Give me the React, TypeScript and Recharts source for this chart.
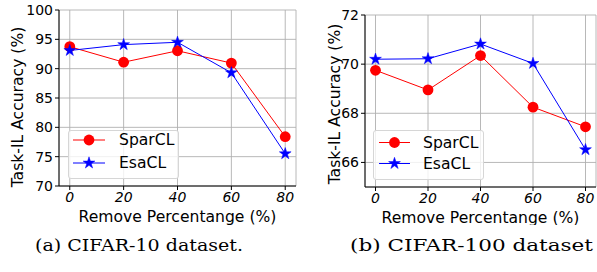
import React from 'react';
import { LineChart, Line, XAxis, YAxis, CartesianGrid, Label } from 'recharts';

const xValues = [0, 20, 40, 60, 80];
const xTicks = [0, 20, 40, 60, 80];
const seriesNames = ['SparCL', 'EsaCL'];

const cifar10Spar = [93.75, 91.1, 93.05, 90.95, 78.4];
const cifar10Esa = [93.1, 94.1, 94.5, 89.3, 75.5];
const cifar10YTicks = [70, 75, 80, 85, 90, 95, 100];

const cifar100Spar = [69.75, 68.95, 70.35, 68.25, 67.45];
const cifar100Esa = [70.2, 70.22, 70.82, 70.03, 66.52];
const cifar100YTicks = [66, 68, 70, 72];

const captions = ['(a) CIFAR-10 dataset.', '(b) CIFAR-100 dataset'];

const FONT = '"DejaVu Sans", sans-serif';
const RED = '#ff0000';
const BLUE = '#0000ff';

const build = (a: number[], b: number[]) =>
  xValues.map((x, i) => ({ x, spar: a[i], esa: b[i] }));

const starPoints = (cx: number, cy: number, R: number) => {
  const r = R * 0.382;
  const pts: string[] = [];
  for (let i = 0; i < 10; i++) {
    const rad = i % 2 === 0 ? R : r;
    const ang = -Math.PI / 2 + (i * Math.PI) / 5;
    pts.push(`${cx + rad * Math.cos(ang)},${cy + rad * Math.sin(ang)}`);
  }
  return pts.join(' ');
};

const StarDot = (props: any) => {
  const { cx, cy, index } = props;
  if (cx == null || cy == null) return null;
  return <polygon key={`s${index}`} points={starPoints(cx, cy, 6.2)} fill={BLUE} stroke={BLUE} strokeWidth={0.5} />;
};

const CircleDot = (props: any) => {
  const { cx, cy, index } = props;
  if (cx == null || cy == null) return null;
  return <circle key={`c${index}`} cx={cx} cy={cy} r={5.4} fill={RED} />;
};

type PanelProps = {
  data: { x: number; spar: number; esa: number }[];
  yDomain: [number, number];
  yTicks: number[];
  width: number;
  marginTop: number;
  marginRight: number;
  yAxisWidth: number;
  xAxisHeight: number;
  yLabelX: number;
  yLabelDy: number;
};

const Panel = (p: PanelProps) => (
  <LineChart
    width={p.width}
    height={225}
    data={p.data}
    margin={{ top: p.marginTop, right: p.marginRight, bottom: 0, left: 0 }}
    style={{ fontFamily: FONT }}
  >
    <CartesianGrid stroke="#b0b0b0" strokeWidth={0.9} />
    <XAxis
      dataKey="x"
      type="number"
      domain={[-4, 84]}
      ticks={xTicks}
      height={p.xAxisHeight}
      tickSize={4}
      tickMargin={2}
      axisLine={{ stroke: '#000', strokeWidth: 1 }}
      tickLine={{ stroke: '#000', strokeWidth: 1 }}
      tick={{ fontSize: 14, fontStyle: 'italic', fill: '#000', fontFamily: FONT }}
      allowDataOverflow
    >
      <Label
        content={(lp: any) => {
          const vb = lp.viewBox || {};
          return (
            <text
              x={vb.x + vb.width / 2}
              y={vb.y + 35.5}
              textAnchor="middle"
              fontSize={15.6}
              fontFamily={FONT}
              fill="#000"
            >
              Remove Percentange (%)
            </text>
          );
        }}
      />
    </XAxis>
    <XAxis
      xAxisId="top"
      orientation="top"
      type="number"
      domain={[-4, 84]}
      height={0}
      tick={false}
      tickLine={false}
      axisLine={{ stroke: '#000', strokeWidth: 1 }}
    />
    <YAxis
      type="number"
      domain={p.yDomain}
      ticks={p.yTicks}
      width={p.yAxisWidth}
      tickSize={4}
      tickMargin={2}
      interval={0}
      axisLine={{ stroke: '#000', strokeWidth: 1 }}
      tickLine={{ stroke: '#000', strokeWidth: 1 }}
      tick={{ fontSize: 14, fill: '#000', fontFamily: FONT }}
      allowDataOverflow
    >
      <Label
        content={(lp: any) => {
          const vb = lp.viewBox || {};
          const cx = p.yLabelX;
          const cy = vb.y + vb.height / 2 + p.yLabelDy;
          return (
            <text
              x={cx}
              y={cy}
              transform={`rotate(-90, ${cx}, ${cy})`}
              textAnchor="middle"
              dominantBaseline="central"
              fontSize={15.6}
              fontFamily={FONT}
              fill="#000"
            >
              Task-IL Accuracy (%)
            </text>
          );
        }}
      />
    </YAxis>
    <YAxis
      yAxisId="right"
      orientation="right"
      type="number"
      domain={p.yDomain}
      width={0}
      tick={false}
      tickLine={false}
      axisLine={{ stroke: '#000', strokeWidth: 1 }}
    />
    <Line
      dataKey="spar"
      name={seriesNames[0]}
      stroke={RED}
      strokeWidth={1}
      dot={<CircleDot />}
      activeDot={false}
      isAnimationActive={false}
    />
    <Line
      dataKey="esa"
      name={seriesNames[1]}
      stroke={BLUE}
      strokeWidth={1}
      dot={<StarDot />}
      activeDot={false}
      isAnimationActive={false}
    />
  </LineChart>
);

const LegendBox = (props: { left: number; top: number; width: number; height: number; row1: number; row2: number; lineX1: number; lineX2: number; textX: number }) => {
  const { width, height, row1, row2, lineX1, lineX2, textX } = props;
  const mx = (lineX1 + lineX2) / 2;
  return (
    <div
      style={{
        position: 'absolute',
        left: props.left,
        top: props.top,
        width,
        height,
        boxSizing: 'border-box',
        border: '1px solid #d6d6d6',
        borderRadius: 3,
        background: 'rgba(255,255,255,0.8)',
      }}
    >
      <svg width={width} height={height} style={{ position: 'absolute', left: -1, top: -1 }}>
        <line x1={lineX1} x2={lineX2} y1={row1} y2={row1} stroke={RED} strokeWidth={1} />
        <circle cx={mx} cy={row1} r={5.4} fill={RED} />
        <text x={textX} y={row1} dominantBaseline="central" fontSize={15.6} fontFamily={FONT} fill="#000">
          {seriesNames[0]}
        </text>
        <line x1={lineX1} x2={lineX2} y1={row2} y2={row2} stroke={BLUE} strokeWidth={1} />
        <polygon points={starPoints(mx, row2, 6.2)} fill={BLUE} stroke={BLUE} strokeWidth={0.5} />
        <text x={textX} y={row2} dominantBaseline="central" fontSize={15.6} fontFamily={FONT} fill="#000">
          {seriesNames[1]}
        </text>
      </svg>
    </div>
  );
};

const SERIF = '"DejaVu Serif", serif';

export default function App() {
  return (
    <div style={{ position: 'absolute', left: 0, top: 0, width: 597, height: 272, background: '#fff', overflow: 'hidden' }}>
      <div style={{ position: 'absolute', left: 0, top: 0 }}>
        <Panel
          data={build(cifar10Spar, cifar10Esa)}
          yDomain={[70, 100]}
          yTicks={cifar10YTicks}
          width={300}
          marginTop={10}
          marginRight={4}
          yAxisWidth={59}
          xAxisHeight={39}
          yLabelX={17.5}
          yLabelDy={9}
        />
      </div>
      <div style={{ position: 'absolute', left: 300, top: 0 }}>
        <Panel
          data={build(cifar100Spar, cifar100Esa)}
          yDomain={[65, 72]}
          yTicks={cifar100YTicks}
          width={297}
          marginTop={15}
          marginRight={1}
          yAxisWidth={65}
          xAxisHeight={38}
          yLabelX={35}
          yLabelDy={3}
        />
      </div>
      <LegendBox left={68} top={130} width={111} height={49} row1={10} row2={33} lineX1={5} lineX2={37} textX={51} />
      <LegendBox left={373} top={130} width={111} height={50} row1={12.5} row2={33.5} lineX1={6} lineX2={37} textX={50} />
      <svg width={597} height={47} style={{ position: 'absolute', left: 0, top: 225 }}>
        <text x={35} y={26} fontSize={17.5} fontFamily={SERIF} fill="#000" textLength={208} lengthAdjust="spacingAndGlyphs">
          {captions[0]}
        </text>
        <text x={350} y={26} fontSize={17.5} fontFamily={SERIF} fill="#000" textLength={243} lengthAdjust="spacingAndGlyphs">
          {captions[1]}
        </text>
      </svg>
    </div>
  );
}
